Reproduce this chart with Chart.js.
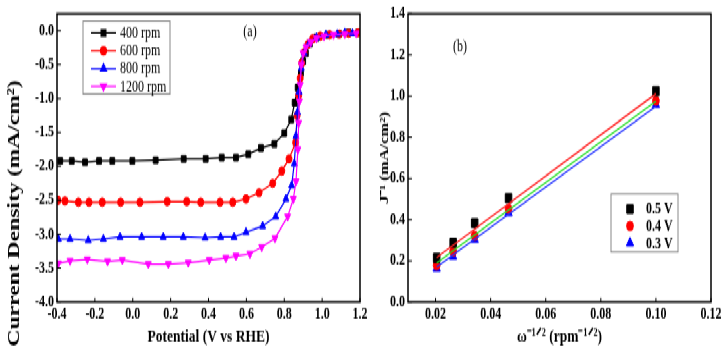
<!DOCTYPE html>
<html>
<head>
<meta charset="utf-8">
<script src="https://cdn.jsdelivr.net/npm/chart.js@4.4.1/dist/chart.umd.min.js"></script>
<style>
    html, body { margin: 0; padding: 0; background: #fff; overflow: hidden; }
    /* the source figure is stretched vertically, so draw at 260px and stretch */
    #stage { position: absolute; left: 0; top: 0; width: 726px; height: 260px;
             transform: scaleY(1.35); transform-origin: 0 0; }
    .panel { position: absolute; top: 0; height: 260px; }
    #pa { left: 0; width: 370px; }
    #pb { left: 370px; width: 356px; }
</style>
</head>
<body>
<div id="stage">
    <div class="panel" id="pa"><canvas id="chartA"></canvas></div>
    <div class="panel" id="pb"><canvas id="chartB"></canvas></div>
</div>
<script>
// ------------------------------
// DATA - panel (a) LSV curves
// ------------------------------
const potential400 = [-0.383, -0.322, -0.252, -0.178, -0.108, -0.002, 0.121, 0.269, 0.385, 0.47, 0.545, 0.61, 0.677, 0.748, 0.80, 0.837, 0.855, 0.871, 0.888, 0.90, 0.914, 0.935, 0.97, 1.03, 1.09, 1.14, 1.19];
const current400   = [-1.92, -1.92, -1.94, -1.92, -1.92, -1.92, -1.91, -1.89, -1.89, -1.87, -1.87, -1.82, -1.73, -1.67, -1.51, -1.31, -1.06, -0.84, -0.62, -0.45, -0.33, -0.19, -0.10, -0.06, -0.05, -0.03, -0.03];

const potential600 = [-0.395, -0.358, -0.287, -0.231, -0.161, -0.064, 0.038, 0.182, 0.285, 0.359, 0.461, 0.528, 0.598, 0.667, 0.739, 0.787, 0.825, 0.86, 0.868, 0.876, 0.884, 0.892, 0.905, 0.925, 0.95, 0.99, 1.04, 1.09, 1.14, 1.19];
const current600   = [-2.50, -2.51, -2.53, -2.53, -2.53, -2.53, -2.53, -2.52, -2.52, -2.53, -2.53, -2.53, -2.48, -2.39, -2.25, -2.07, -1.89, -1.65, -1.25, -0.95, -0.70, -0.48, -0.32, -0.20, -0.12, -0.08, -0.06, -0.05, -0.04, -0.03];

const potential800 = [-0.393, -0.331, -0.235, -0.155, -0.067, 0.047, 0.161, 0.267, 0.382, 0.464, 0.535, 0.598, 0.686, 0.755, 0.809, 0.839, 0.853, 0.862, 0.87, 0.878, 0.89, 0.905, 0.93, 0.97, 1.02, 1.08, 1.12, 1.16];
const current800   = [-3.07, -3.07, -3.09, -3.07, -3.04, -3.04, -3.04, -3.04, -3.05, -3.04, -3.04, -2.97, -2.88, -2.74, -2.48, -2.28, -1.96, -1.55, -1.20, -0.90, -0.55, -0.33, -0.19, -0.10, -0.06, -0.05, -0.03, -0.04];

const potential1200 = [-0.393, -0.331, -0.24, -0.133, -0.055, 0.082, 0.188, 0.293, 0.404, 0.492, 0.545, 0.619, 0.681, 0.751, 0.818, 0.848, 0.862, 0.872, 0.876, 0.88, 0.884, 0.89, 0.9, 0.915, 0.94, 0.97, 1.01, 1.06, 1.12, 1.18];
const current1200   = [-3.43, -3.39, -3.37, -3.40, -3.38, -3.44, -3.44, -3.42, -3.38, -3.35, -3.32, -3.29, -3.19, -3.06, -2.74, -2.48, -2.22, -1.75, -1.36, -1.04, -0.80, -0.50, -0.33, -0.24, -0.17, -0.11, -0.08, -0.06, -0.05, -0.04];

const rpmLabels = ["400 rpm", "600 rpm", "800 rpm", "1200 rpm"];
const xTicksA = [-0.4, -0.2, 0.0, 0.2, 0.4, 0.6, 0.8, 1.0, 1.2];
const yTicksA = [-4.0, -3.5, -3.0, -2.5, -2.0, -1.5, -1.0, -0.5, 0.0];

// ------------------------------
// DATA - panel (b) K-L plot
// ------------------------------
const omega  = [0.0204, 0.0264, 0.0342, 0.0465, 0.100];
const inv05  = [0.214, 0.288, 0.383, 0.505, 1.024];
const inv04  = [0.179, 0.246, 0.322, 0.452, 0.978];
const inv03  = [0.163, 0.222, 0.304, 0.433, 0.959];

// fitted lines, end points
const fitX   = [0.0204, 0.100];
const fit05  = [0.216, 1.012];
const fit04  = [0.190, 0.975];
const fit03  = [0.170, 0.951];

const voltLabels = ["0.5 V", "0.4 V", "0.3 V"];
const xTicksB = [0.02, 0.04, 0.06, 0.08, 0.10, 0.12];
const yTicksB = [0.0, 0.2, 0.4, 0.6, 0.8, 1.0, 1.2, 1.4];

// ------------------------------
// HELPERS
// ------------------------------
const SERIF = "'Liberation Serif', 'Times New Roman', serif";
const pts = (xs, ys) => xs.map((x, i) => ({ x, y: ys[i] }));
const setTicks = (list) => (scale) => { scale.ticks = list.map(v => ({ value: v })); };

const tickFont = { family: SERIF, size: 12, weight: "bold" };

// frame, inner ticks, panel tag, free y title and a hand drawn legend
const decor = {
    id: "decor",
    afterDraw(chart, args, o) {
        const { ctx, chartArea: a, scales: { x, y } } = chart;
        ctx.save();
        ctx.strokeStyle = "#000";
        ctx.lineWidth = 1.5;
        ctx.strokeRect(a.left, a.top, a.right - a.left, a.bottom - a.top);

        ctx.lineWidth = 1;
        ctx.beginPath();
        x.ticks.forEach(t => {
            const p = x.getPixelForValue(t.value);
            ctx.moveTo(p, a.bottom); ctx.lineTo(p, a.bottom - 3);
        });
        y.ticks.forEach(t => {
            const p = y.getPixelForValue(t.value);
            ctx.moveTo(a.left, p); ctx.lineTo(a.left + 4, p);
        });
        ctx.stroke();

        ctx.fillStyle = "#000";
        ctx.font = "12px " + SERIF;
        ctx.textAlign = "center";
        ctx.textBaseline = "middle";
        ctx.fillText(o.tag, o.tagX, o.tagY);

        if (o.yTitle) {
            ctx.save();
            ctx.translate(o.yTitle.x, o.yTitle.y);
            ctx.rotate(-Math.PI / 2);
            ctx.font = o.yTitle.font;
            ctx.fillText(o.yTitle.text, 0, 0);
            ctx.restore();
        }

        const L = o.legend;
        ctx.strokeStyle = "#888";
        ctx.lineWidth = 1;
        ctx.strokeRect(L.x, L.y, L.w, L.h);
        ctx.font = L.font;
        ctx.textAlign = "left";
        L.rows.forEach((ry, i) => {
            const ds = chart.data.datasets[i];
            if (L.line) {
                ctx.strokeStyle = ds.borderColor;
                ctx.lineWidth = ds.borderWidth;
                ctx.beginPath(); ctx.moveTo(L.x0, ry); ctx.lineTo(L.x1, ry); ctx.stroke();
            }
            ctx.fillStyle = ds.pointBackgroundColor;
            ctx.strokeStyle = ds.pointBorderColor;
            Chart.helpers.drawPoint(ctx, {
                pointStyle: ds.pointStyle,
                radius: ds.pointRadius,
                rotation: ds.pointRotation || 0,
                borderWidth: 1
            }, L.mx, ry);
            ctx.fillStyle = "#000";
            ctx.fillText(ds.label, L.tx, ry + 0.5);
        });
        ctx.restore();
    }
};

// ===========================================
// PANEL (a)
// ===========================================
function lsvSet(label, xs, ys, color, style, rot, order) {
    return {
        label, data: pts(xs, ys), showLine: true, order,
        borderColor: color, borderWidth: 1.2,
        pointStyle: style, pointRotation: rot, pointRadius: style === "circle" ? 3 : 3.4,
        pointBackgroundColor: color, pointBorderColor: color, pointBorderWidth: 1
    };
}

new Chart(document.getElementById("chartA"), {
    type: "scatter",
    data: {
        datasets: [
            lsvSet(rpmLabels[0], potential400, current400, "#000000", "rect", 0, 4),
            lsvSet(rpmLabels[1], potential600, current600, "#ff0000", "circle", 0, 3),
            lsvSet(rpmLabels[2], potential800, current800, "#0000ff", "triangle", 0, 2),
            lsvSet(rpmLabels[3], potential1200, current1200, "#ff00ff", "triangle", 180, 1)
        ]
    },
    options: {
        responsive: true,
        maintainAspectRatio: false,
        animation: false,
        devicePixelRatio: 1,
        layout: { padding: { top: 8.9, right: 10, left: 0, bottom: 0 } },
        plugins: {
            legend: { display: false },
            tooltip: { enabled: false },
            decor: {
                tag: "(a)", tagX: 250, tagY: 23.5,
                yTitle: { text: "Current Density (mA/cm²)", x: 14.5, y: 158,
                          font: "bold 17.5px " + SERIF },
                legend: {
                    x: 83, y: 15.6, w: 87, h: 54, line: true,
                    x0: 91, x1: 116, mx: 103.5, tx: 120,
                    rows: [24.4, 37.6, 50.8, 64],
                    font: "12px " + SERIF
                }
            }
        },
        scales: {
            x: {
                type: "linear", min: -0.4, max: 1.2,
                afterBuildTicks: setTicks(xTicksA),
                afterFit: (s) => { s.height = 36.3; },
                grid: { display: false, drawTicks: false },
                border: { display: false },
                ticks: { font: tickFont, color: "#000", padding: 2, maxRotation: 0, autoSkip: false,
                         callback: (v) => v.toFixed(1) },
                title: { display: true, text: "Potential (V vs RHE)", color: "#000",
                         font: { family: SERIF, size: 13.5, weight: "bold" }, padding: { top: 0, bottom: 2 } }
            },
            y: {
                type: "linear", min: -4, max: 0.25,
                afterBuildTicks: setTicks(yTicksA),
                afterFit: (s) => { s.width = 57; },
                grid: { display: false, drawTicks: false },
                border: { display: false },
                ticks: { font: tickFont, color: "#000", padding: 3, autoSkip: false,
                         callback: (v) => v.toFixed(1) },
                title: { display: false }
            }
        }
    },
    plugins: [decor]
});

// ===========================================
// PANEL (b)
// ===========================================
function klSet(label, ys, color, style, radius) {
    return {
        label, data: pts(omega, ys), showLine: false, order: 2,
        pointStyle: style, pointRadius: radius,
        pointBackgroundColor: color, pointBorderColor: color, pointBorderWidth: 1
    };
}
function fitSet(ys, color) {
    return {
        data: pts(fitX, ys), showLine: true, order: 1,
        borderColor: color, borderWidth: 1.2, pointRadius: 0
    };
}

new Chart(document.getElementById("chartB"), {
    type: "scatter",
    data: {
        datasets: [
            klSet(voltLabels[0], inv05, "#000000", "rect", 4.6),
            klSet(voltLabels[1], inv04, "#ff0000", "circle", 3.4),
            klSet(voltLabels[2], inv03, "#0000ff", "triangle", 4.2),
            fitSet(fit05, "#ff2020"),
            fitSet(fit04, "#22dd22"),
            fitSet(fit03, "#2030ff")
        ]
    },
    options: {
        responsive: true,
        maintainAspectRatio: false,
        animation: false,
        devicePixelRatio: 1,
        layout: { padding: { top: 8.9, right: 15, left: 0, bottom: 0 } },
        plugins: {
            legend: { display: false },
            tooltip: { enabled: false },
            decor: {
                tag: "(b)", tagX: 90, tagY: 34.8,
                legend: {
                    x: 241, y: 143.7, w: 67, h: 43, line: false,
                    mx: 260, tx: 276,
                    rows: [154.8, 167.4, 180],
                    font: "bold 12px " + SERIF
                }
            }
        },
        scales: {
            x: {
                type: "linear", min: 0.01, max: 0.12,
                afterBuildTicks: setTicks(xTicksB),
                afterFit: (s) => { s.height = 36.3; },
                grid: { display: false, drawTicks: false },
                border: { display: false },
                ticks: { font: tickFont, color: "#000", padding: 2, maxRotation: 0, autoSkip: false,
                         callback: (v) => v.toFixed(2) },
                title: { display: true, text: "ω⁻¹ᐟ² (rpm⁻¹ᐟ²)", color: "#000",
                         font: { family: SERIF, size: 13.5, weight: "bold" }, padding: { top: 0, bottom: 2 } }
            },
            y: {
                type: "linear", min: 0, max: 1.4,
                afterBuildTicks: setTicks(yTicksB),
                afterFit: (s) => { s.width = 38; },
                grid: { display: false, drawTicks: false },
                border: { display: false },
                ticks: { font: tickFont, color: "#000", padding: 3, autoSkip: false,
                         callback: (v) => v.toFixed(1) },
                title: { display: true, text: "J⁻¹ (mA/cm²)", color: "#000",
                         font: { family: SERIF, size: 12.5, weight: "bold" }, padding: { top: 7, bottom: 0 } }
            }
        }
    },
    plugins: [decor]
});
</script>
</body>
</html>
